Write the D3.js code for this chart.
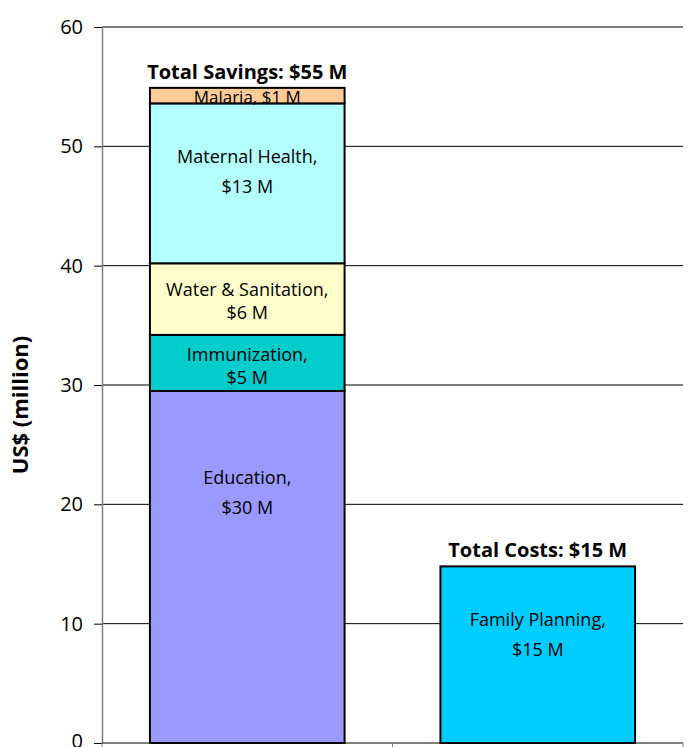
<!DOCTYPE html>
<html>
<head>
<meta charset="utf-8">
<script src="https://cdn.jsdelivr.net/npm/d3@7"></script>
<style>
  body { margin: 0; background: #fff; }
  svg text { font-family: "Open Sans", "Lato", sans-serif; fill: #000; }
</style>
</head>
<body>
<div id="chart"></div>
<script>
// bars and stacked segments
const categories = ["Savings", "Costs"];
const savingsNames = ["Education", "Immunization", "Water & Sanitation", "Maternal Health", "Malaria"];
const savingsValues = [29.5, 4.7, 6.0, 13.4, 1.3];
const savingsLabels = ["$30 M", "$5 M", "$6 M", "$13 M", "$1 M"];
const costNames = ["Family Planning"];
const costValues = [14.8];
const costLabels = ["$15 M"];
const totalLabels = ["Total Savings: $55 M", "Total Costs: $15 M"];
const yTicks = [0, 10, 20, 30, 40, 50, 60];

const colors = {
    "Education": "#9999ff",
    "Immunization": "#00cccc",
    "Water & Sanitation": "#ffffcc",
    "Maternal Health": "#b3ffff",
    "Malaria": "#ffcc99",
    "Family Planning": "#00ccff"
};

const margin = { top: 27, right: 5, bottom: 4, left: 102 },
    width = 688 - margin.left - margin.right,
    height = 747 - margin.top - margin.bottom;

const svg = d3.select("#chart")
    .append("svg")
    .attr("width", 688)
    .attr("height", 747)
    .append("g")
    .attr("transform", `translate(${margin.left},${margin.top})`);

const x = d3.scaleBand()
    .domain(categories)
    .range([0, width])
    .paddingInner(0.33)
    .paddingOuter(0.165);

const y = d3.scaleLinear()
    .domain([0, 60])
    .range([height, 0]);

// gridlines
svg.append("g")
    .selectAll("line")
    .data(yTicks.filter(d => d > 0))
    .enter().append("line")
    .attr("x1", 0)
    .attr("x2", width)
    .attr("y1", d => y(d))
    .attr("y2", d => y(d))
    .attr("stroke", "#000")
    .attr("stroke-width", 1);

// y axis
const yAxis = svg.append("g")
    .call(d3.axisLeft(y).tickValues(yTicks).tickSize(8).tickSizeOuter(0));
yAxis.select(".domain").attr("stroke", "#808080").attr("stroke-width", 1.5);
yAxis.selectAll(".tick line").attr("stroke", "#000");
yAxis.selectAll(".tick text")
    .attr("x", -19)
    .attr("dy", d => d === 0 ? "0.2em" : "0.32em")
    .style("font-size", "20px")
    .style("font-family", "'Open Sans', sans-serif");

// x axis (line + separator ticks only)
svg.append("line")
    .attr("x1", 0).attr("x2", width)
    .attr("y1", height).attr("y2", height)
    .attr("stroke", "#000");
const step = x.step();
svg.append("g")
    .selectAll("line")
    .data([0, 1, 2])
    .enter().append("line")
    .attr("x1", d => x(categories[0]) - x.paddingOuter() * step + d * step)
    .attr("x2", d => x(categories[0]) - x.paddingOuter() * step + d * step)
    .attr("y1", height)
    .attr("y2", height + 5)
    .attr("stroke", "#808080");

// stack data
function stackOf(names, values, labels, cat) {
    let acc = 0;
    return names.map((n, i) => {
        const d = { name: n, y0: acc, y1: acc + values[i], label: labels[i], cat: cat };
        acc += values[i];
        return d;
    });
}
const segments = stackOf(savingsNames, savingsValues, savingsLabels, "Savings")
    .concat(stackOf(costNames, costValues, costLabels, "Costs"));

svg.append("g")
    .selectAll("rect")
    .data(segments)
    .enter().append("rect")
    .attr("x", d => x(d.cat))
    .attr("width", x.bandwidth())
    .attr("y", d => y(d.y1))
    .attr("height", d => y(d.y0) - y(d.y1))
    .attr("fill", d => colors[d.name])
    .attr("stroke", "#000")
    .attr("stroke-width", 2);

// segment labels: offset of first line below segment top, and line gap
const labelLayout = {
    "Education": { dy: 87, gap: 30 },
    "Immunization": { dy: 20, gap: 23 },
    "Water & Sanitation": { dy: 26, gap: 23 },
    "Maternal Health": { dy: 53, gap: 30 },
    "Family Planning": { dy: 53, gap: 30 }
};

const lbl = svg.append("g")
    .selectAll("g")
    .data(segments)
    .enter().append("g")
    .attr("transform", d => `translate(${x(d.cat) + x.bandwidth() / 2},${y(d.y1)})`);

lbl.each(function(d) {
    const g = d3.select(this);
    const lay = labelLayout[d.name];
    if (!lay) {
        // single line inside thin segment
        g.append("text")
            .attr("text-anchor", "middle")
            .attr("y", (y(d.y0) - y(d.y1)) / 2 + 7)
            .style("font-size", "17px")
            .text(`${d.name}, ${d.label}`);
        return;
    }
    g.append("text")
        .attr("text-anchor", "middle")
        .attr("y", lay.dy)
        .attr("dy", "0.35em")
        .style("font-size", "18px")
        .text(d.name + ",");
    g.append("text")
        .attr("text-anchor", "middle")
        .attr("y", lay.dy + lay.gap)
        .attr("dy", "0.35em")
        .style("font-size", "18px")
        .text(d.label);
});

// totals above bars
const totals = categories.map((c, i) => ({
    cat: c,
    value: d3.sum(i === 0 ? savingsValues : costValues),
    label: totalLabels[i]
}));
svg.append("g")
    .selectAll("text")
    .data(totals)
    .enter().append("text")
    .attr("x", d => x(d.cat) + x.bandwidth() / 2)
    .attr("y", d => y(d.value) - 9)
    .attr("text-anchor", "middle")
    .style("font-size", "20px")
    .style("font-weight", "bold")
    .text(d => d.label);

// y axis label
svg.append("text")
    .attr("transform", "rotate(-90)")
    .attr("x", -(y(0) + y(60)) / 2 - 20)
    .attr("y", -margin.left + 28)
    .attr("text-anchor", "middle")
    .style("font-size", "22px")
    .style("font-weight", "bold")
    .text("US$ (million)");
</script>
</body>
</html>
